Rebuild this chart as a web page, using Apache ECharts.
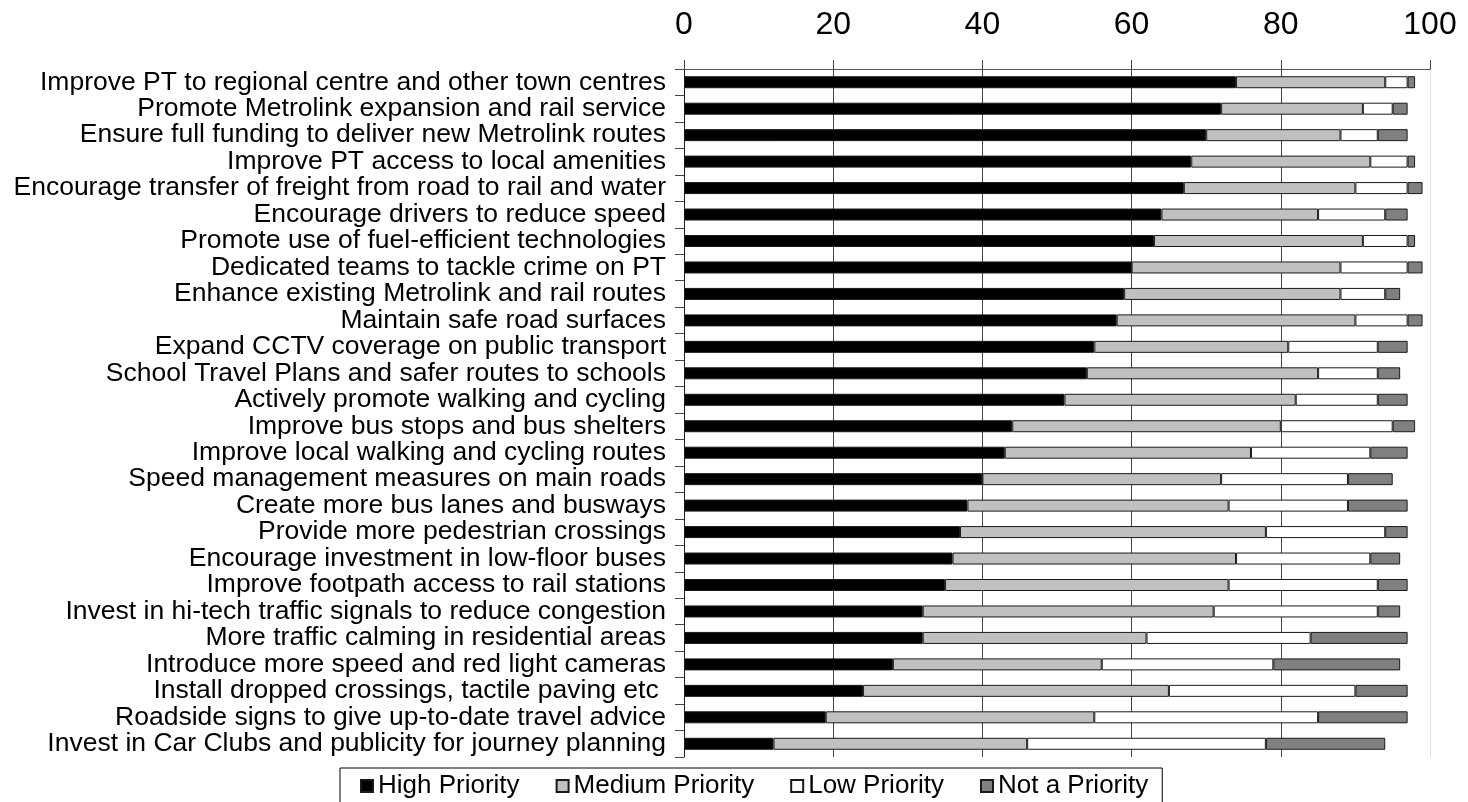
<!DOCTYPE html>
<html>
<head>
<meta charset="utf-8">
<script src="https://cdn.jsdelivr.net/npm/echarts@6/dist/echarts.min.js"></script>
<style>
html,body{margin:0;padding:0;background:#fff;}
#chart{width:1468px;height:802px;}
</style>
</head>
<body>
<div id="chart"></div>
<script>
const categories = [
  "Improve PT to regional centre and other town centres",
  "Promote Metrolink expansion and rail service",
  "Ensure full funding to deliver new Metrolink routes",
  "Improve PT access to local amenities",
  "Encourage transfer of freight from road to rail and water",
  "Encourage drivers to reduce speed",
  "Promote use of fuel-efficient technologies",
  "Dedicated teams to tackle crime on PT",
  "Enhance existing Metrolink and rail routes",
  "Maintain safe road surfaces",
  "Expand CCTV coverage on public transport",
  "School Travel Plans and safer routes to schools",
  "Actively promote walking and cycling",
  "Improve bus stops and bus shelters",
  "Improve local walking and cycling routes",
  "Speed management measures on main roads",
  "Create more bus lanes and busways",
  "Provide more pedestrian crossings",
  "Encourage investment in low-floor buses",
  "Improve footpath access to rail stations",
  "Invest in hi-tech traffic signals to reduce congestion",
  "More traffic calming in residential areas",
  "Introduce more speed and red light cameras",
  "Install dropped crossings, tactile paving etc ",
  "Roadside signs to give up-to-date travel advice",
  "Invest in Car Clubs and publicity for journey planning"
];
const highPriority   = [74,72,70,68,67,64,63,60,59,58,55,54,51,44,43,40,38,37,36,35,32,32,28,24,19,12];
const mediumPriority = [20,19,18,24,23,21,28,28,29,32,26,31,31,36,33,32,35,41,38,38,39,30,28,41,36,34];
const lowPriority    = [3,4,5,5,7,9,6,9,6,7,12,8,11,15,16,17,16,16,18,20,22,22,23,25,30,32];
const notPriority    = [1,2,4,1,2,3,1,2,2,2,4,3,4,3,5,6,8,3,4,4,3,13,17,7,12,16];
const seriesNames = ["High Priority","Medium Priority","Low Priority","Not a Priority"];
const xTicks = {min:0, max:100, interval:20};

const FONT = "'Liberation Sans', Arial, sans-serif";
const fills = ["#000000","#c0c0c0","#ffffff","#808080"];
const values = [highPriority, mediumPriority, lowPriority, notPriority];

const chart = echarts.init(document.getElementById('chart'), null, {renderer:'canvas'});
chart.setOption({
  animation:false,
  backgroundColor:'#ffffff',
  textStyle:{fontFamily:FONT},
  grid:{left:684, right:38, top:69, bottom:45, containLabel:false},
  legend:{
    data:seriesNames,
    left:340, top:768,
    orient:'horizontal',
    icon:'rect',
    itemWidth:12, itemHeight:12, itemGap:36,
    padding:[5,14,5,20],
    borderColor:'#000', borderWidth:1, backgroundColor:'#fff',
    textStyle:{fontSize:26, color:'#000', fontFamily:FONT}
  },
  xAxis:{
    type:'value', position:'top',
    min:xTicks.min, max:xTicks.max, interval:xTicks.interval,
    axisLine:{show:true, lineStyle:{color:'#555', width:1}},
    axisTick:{show:true, length:9, lineStyle:{color:'#444', width:1}},
    axisLabel:{fontSize:32, color:'#000', margin:28, fontFamily:FONT},
    splitLine:{show:true, lineStyle:{color:['#444','#444','#444','#444','#444','#e2e2e2'], width:1}}
  },
  yAxis:{
    type:'category', inverse:true, data:categories,
    axisLine:{show:true, lineStyle:{color:'#222', width:1}},
    axisTick:{show:true, length:9, interval:0, lineStyle:{color:'#444', width:1}},
    axisLabel:{fontSize:26.5, lineHeight:26, color:'#000', margin:18, interval:0, fontFamily:FONT},
    splitLine:{show:false}
  },
  series: seriesNames.map((name,i)=>({
    name:name, type:'bar', stack:'total', barWidth:12,
    data:values[i],
    itemStyle:{color:fills[i], borderColor:'#1a1a1a', borderWidth:1},
    emphasis:{disabled:true}
  }))
});
</script>
</body>
</html>
